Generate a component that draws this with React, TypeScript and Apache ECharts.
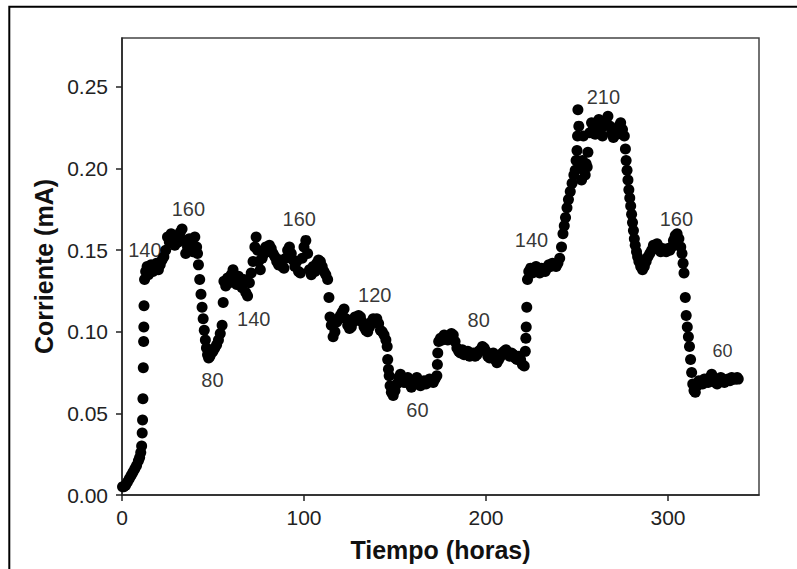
import React, { useEffect, useRef } from "react";
import * as echarts from "echarts";

// [hours, mA] readings, grouped by phase
const startup: number[][] = [
  [0.3, 0.005], [1, 0.005], [2, 0.006], [3, 0.008], [4, 0.01], [5, 0.012], [6, 0.014], [7, 0.016],
  [8, 0.018], [9, 0.021], [9.7, 0.023], [10.3, 0.026], [10.8, 0.03], [11.1, 0.038], [11.3, 0.046],
  [11.5, 0.059], [11.7, 0.078], [11.9, 0.094], [12.0, 0.103], [12.1, 0.116], [12.4, 0.132],
];
const phase140a: number[][] = [
  [13, 0.137], [13.8, 0.14], [14.5, 0.135], [15.3, 0.139], [16, 0.141], [17, 0.137], [18, 0.139],
  [19, 0.142], [20, 0.138], [21, 0.141], [22, 0.144], [23, 0.146], [24, 0.15], [25, 0.158],
];
const phase160a: number[][] = [
  [26, 0.155], [27, 0.16], [28, 0.157], [29, 0.153], [30, 0.158], [31, 0.155], [32, 0.161], [33, 0.163],
  [34, 0.156], [35, 0.148], [36, 0.152], [37, 0.157], [38, 0.153], [39, 0.149], [40, 0.158], [41, 0.152],
  [41.5, 0.148],
];
const phase80a: number[][] = [
  [42, 0.141], [42.7, 0.132], [43.4, 0.123], [44, 0.115], [44.6, 0.108], [45.2, 0.101], [45.8, 0.095],
  [46.4, 0.09], [47, 0.086], [47.6, 0.084], [48.3, 0.085], [49, 0.087], [50, 0.088], [51, 0.09],
  [52, 0.092], [53, 0.095], [54, 0.099], [55, 0.104], [55.6, 0.118], [56, 0.131],
];
const phase140b: number[][] = [
  [57, 0.128], [58, 0.133], [59, 0.13], [60, 0.135], [61, 0.138], [62, 0.133], [63, 0.129], [64, 0.134],
  [65, 0.131], [66, 0.127], [67, 0.132], [68, 0.124], [69, 0.122], [70, 0.13], [71, 0.136], [72, 0.143],
  [73, 0.152], [73.7, 0.158],
];
const phase160b: number[][] = [
  [74.5, 0.15], [75, 0.143], [76, 0.138], [77, 0.145], [78, 0.148], [79, 0.152], [80, 0.149], [81, 0.153],
  [82, 0.151], [83, 0.148], [84, 0.146], [85, 0.143], [86, 0.141], [87, 0.144], [88, 0.14], [89, 0.139],
  [90, 0.145], [91, 0.15], [92, 0.152], [93, 0.148], [94, 0.144], [95, 0.14], [96, 0.143], [97, 0.137],
  [98, 0.136], [99, 0.145], [100, 0.152], [101, 0.156], [102, 0.148], [103, 0.138], [104, 0.135],
  [105, 0.14], [106, 0.137], [107, 0.142], [108, 0.144], [109, 0.143], [110, 0.14], [111, 0.137],
  [112, 0.135], [113, 0.132], [113.7, 0.121], [114.3, 0.109],
];
const phase120: number[][] = [
  [115, 0.104], [116, 0.097], [117, 0.1], [118, 0.106], [119, 0.108], [120, 0.11], [121, 0.112],
  [122, 0.114], [123, 0.108], [124, 0.104], [125, 0.102], [126, 0.103], [127, 0.106], [128, 0.109],
  [129, 0.107], [130, 0.11], [131, 0.109], [132, 0.106], [133, 0.103], [134, 0.101], [135, 0.1],
  [136, 0.103], [137, 0.106], [138, 0.108], [139, 0.106], [140, 0.108], [141, 0.105], [142, 0.101],
  [143, 0.1], [144, 0.098], [145, 0.095], [145.7, 0.091],
];
const phase60a: number[][] = [
  [146, 0.083], [146.4, 0.077], [146.8, 0.073], [147.3, 0.067], [148, 0.063], [149, 0.061], [150, 0.064],
  [151, 0.068], [152, 0.072], [153, 0.074], [154, 0.071], [155, 0.069], [156, 0.07], [157, 0.072],
  [158, 0.068], [159, 0.066], [160, 0.068], [161, 0.07], [162, 0.072], [163, 0.069], [164, 0.067],
  [165, 0.069], [166, 0.07], [167, 0.068], [168, 0.069], [169, 0.071], [170, 0.07], [171, 0.069],
  [172, 0.071], [173, 0.073], [173.3, 0.08], [173.5, 0.087], [174, 0.094],
];
const phase80b: number[][] = [
  [175, 0.096], [176, 0.095], [177, 0.098], [178, 0.097], [179, 0.095], [180, 0.097], [181, 0.099],
  [182, 0.098], [183, 0.094], [184, 0.09], [185, 0.088], [186, 0.087], [187, 0.089], [188, 0.086],
  [189, 0.087], [190, 0.088], [191, 0.085], [192, 0.086], [193, 0.087], [194, 0.085], [195, 0.086],
  [196, 0.088], [197, 0.089], [198, 0.091], [199, 0.09], [200, 0.088], [201, 0.085], [202, 0.084],
  [203, 0.086], [204, 0.087], [205, 0.083], [206, 0.081], [207, 0.083], [208, 0.085], [209, 0.087],
  [210, 0.088], [211, 0.089], [212, 0.087], [213, 0.085], [214, 0.087], [215, 0.086], [216, 0.084],
  [217, 0.083], [218, 0.085], [219, 0.083], [220, 0.08], [221, 0.079],
];
const phase140c: number[][] = [
  [221.6, 0.088], [221.9, 0.096], [222.1, 0.103], [222.4, 0.115], [222.8, 0.132], [223.5, 0.137],
  [224.5, 0.139], [225.5, 0.136], [226.5, 0.138], [227.5, 0.14], [228.5, 0.137], [229.5, 0.136],
  [230.5, 0.139], [231.5, 0.138], [232.5, 0.137], [233.5, 0.139], [234.5, 0.141], [235.5, 0.14],
  [236.5, 0.142], [237.5, 0.141], [238.5, 0.14], [239.5, 0.142], [240.5, 0.145],
];
const phase210: number[][] = [
  [241.5, 0.152], [242.3, 0.16], [243, 0.165], [243.7, 0.17], [244.5, 0.176], [245.3, 0.181],
  [246.3, 0.186], [247.3, 0.191], [248.3, 0.196], [249, 0.199], [249.5, 0.205], [250, 0.211],
  [250.3, 0.22], [250.5, 0.236], [251, 0.226], [252, 0.2], [252.5, 0.193], [253, 0.205], [253.5, 0.22],
  [254, 0.2], [254.5, 0.196], [255, 0.203], [255.6, 0.201], [256, 0.21], [257, 0.222], [258, 0.228],
  [259, 0.225], [260, 0.221], [261, 0.226], [262, 0.23], [263, 0.224], [264, 0.22], [265, 0.227],
  [266, 0.229], [267, 0.232], [268, 0.226], [269, 0.222], [270, 0.219], [271, 0.224], [272, 0.221],
  [273, 0.226], [274, 0.228], [275, 0.224], [276, 0.22], [276.6, 0.212],
];
const phase160c: number[][] = [
  [277, 0.205], [277.5, 0.199], [278, 0.193], [278.5, 0.187], [279, 0.182], [279.5, 0.177],
  [280, 0.172], [280.5, 0.167], [281, 0.162], [281.5, 0.157], [282, 0.153], [282.7, 0.149],
  [283.3, 0.146], [284, 0.143], [285, 0.14], [286, 0.138], [287, 0.14], [288, 0.143], [289, 0.146],
  [290, 0.148], [291, 0.15], [292, 0.153], [293, 0.151], [294, 0.154], [295, 0.152], [296, 0.149],
  [297, 0.151], [298, 0.15], [299, 0.149], [300, 0.151], [301, 0.15], [302, 0.152], [303, 0.156],
  [304, 0.159], [305, 0.16], [306, 0.157], [307, 0.152], [307.7, 0.148],
];
const phase60b: number[][] = [
  [308.3, 0.142], [308.8, 0.136], [309.5, 0.121], [310, 0.11], [310.6, 0.103], [311.2, 0.097],
  [311.8, 0.091], [312.4, 0.083], [313, 0.075], [313.6, 0.068], [314.3, 0.064], [315, 0.063],
  [316, 0.067], [317, 0.07], [318, 0.069], [319, 0.068], [320, 0.071], [321, 0.07], [322, 0.069],
  [323, 0.072], [324, 0.074], [325, 0.071], [326, 0.069], [327, 0.068], [328, 0.07], [329, 0.072],
  [330, 0.071], [331, 0.069], [332, 0.07], [333, 0.071], [334, 0.07], [335, 0.072], [336, 0.071],
  [337, 0.071], [338, 0.072], [338.6, 0.071],
];

// annotations: [hours, mA, text]
const annotations: [number, number, string][] = [
  [12.6, 0.1502, "140"],
  [36.5, 0.1755, "160"],
  [49.7, 0.0705, "80"],
  [72.4, 0.1078, "140"],
  [97.4, 0.1694, "160"],
  [138.9, 0.1225, "120"],
  [162.3, 0.0518, "60"],
  [196, 0.1072, "80"],
  [225, 0.1563, "140"],
  [264.5, 0.244, "210"],
  [304.6, 0.1688, "160"],
];
const lastAnnotation: [number, number, string] = [329.9, 0.0882, "60"];

const xTicks = { min: 0, max: 350, interval: 100 };
const yTicks = { min: 0, max: 0.28, interval: 0.05 };

const FONT = '"Liberation Sans", Arial, sans-serif';

export default function App() {
  const ref = useRef<HTMLDivElement>(null);
  useEffect(() => {
    if (!ref.current) return;
    const chart = echarts.init(ref.current, null, { renderer: "svg" });
    const points = [
      ...startup, ...phase140a, ...phase160a, ...phase80a, ...phase140b, ...phase160b,
      ...phase120, ...phase60a, ...phase80b, ...phase140c, ...phase210, ...phase160c, ...phase60b,
    ];
    const labelStyle = (size: number) => ({
      show: true,
      position: "inside",
      formatter: (p: any) => p.name,
      fontFamily: FONT,
      fontSize: size,
      color: "#000",
      textBorderWidth: 0,
      textBorderColor: "transparent",
    });
    chart.setOption({
      animation: false,
      backgroundColor: "#fff",
      textStyle: { fontFamily: FONT },
      grid: {
        left: 122, right: 38, top: 38, bottom: 74,
        show: true, borderColor: "#444", borderWidth: 1.5, backgroundColor: "transparent",
      },
      xAxis: {
        type: "value",
        min: xTicks.min, max: xTicks.max, interval: xTicks.interval,
        name: "Tiempo (horas)", nameLocation: "middle", nameGap: 42,
        nameTextStyle: { fontFamily: FONT, fontSize: 25, fontWeight: "bold", color: "#111" },
        axisLine: { show: true, onZero: false, lineStyle: { color: "#222", width: 1.5 } },
        axisTick: { show: true, inside: false, length: 6, lineStyle: { color: "#222", width: 1.5 } },
        axisLabel: { fontFamily: FONT, fontSize: 21, color: "#222", margin: 12, showMaxLabel: false },
        splitLine: { show: false },
      },
      yAxis: {
        type: "value",
        min: yTicks.min, max: yTicks.max, interval: yTicks.interval,
        name: "Corriente (mA)", nameLocation: "middle", nameGap: 66,
        nameTextStyle: { fontFamily: FONT, fontSize: 25, fontWeight: "bold", color: "#111" },
        axisLine: { show: true, onZero: false, lineStyle: { color: "#222", width: 1.5 } },
        axisTick: { show: true, inside: false, length: 6, lineStyle: { color: "#222", width: 1.5 } },
        axisLabel: {
          fontFamily: FONT, fontSize: 21, color: "#222", margin: 14, showMaxLabel: false,
          formatter: (v: number) => v.toFixed(2),
        },
        splitLine: { show: false },
      },
      graphic: [
        {
          type: "rect",
          shape: { x: 9.3, y: 6.7, width: 1200, height: 1200 },
          style: { fill: "none", stroke: "#000", lineWidth: 2 },
          silent: true,
        },
      ],
      series: [
        {
          type: "scatter",
          data: points,
          symbol: "circle",
          symbolSize: 11,
          itemStyle: { color: "#000", opacity: 1 },
          z: 2,
        },
        {
          type: "scatter",
          data: annotations.map((a) => ({ value: [a[0], a[1]], name: a[2] })),
          symbolSize: 1,
          itemStyle: { color: "transparent" },
          label: labelStyle(20),
          emphasis: { disabled: true },
          z: 3,
        },
        {
          type: "scatter",
          data: [{ value: [lastAnnotation[0], lastAnnotation[1]], name: lastAnnotation[2] }],
          symbolSize: 1,
          itemStyle: { color: "transparent" },
          label: labelStyle(18),
          emphasis: { disabled: true },
          z: 3,
        },
      ],
    });
    return () => chart.dispose();
  }, []);
  return (
    <div
      ref={ref}
      style={{ position: "fixed", left: 0, top: 0, width: 797, height: 569 }}
    />
  );
}
